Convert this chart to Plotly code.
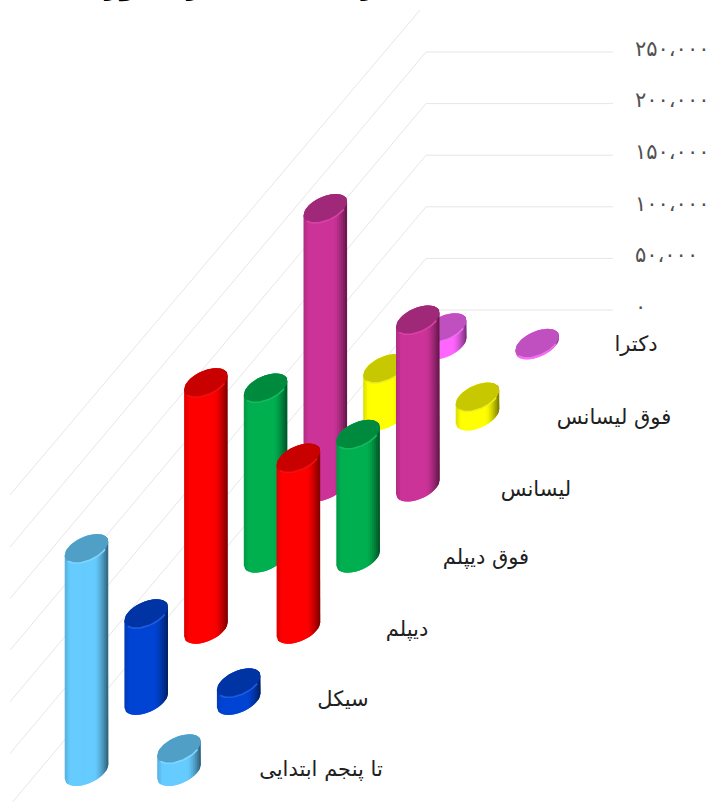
import math
import plotly.graph_objects as go

# ---------- data ----------
categories = ["تا پنجم ابتدایی", "سیکل", "دیپلم", "فوق دیپلم", "لیسانس", "فوق لیسانس", "دکترا"]
front_row = [22000, 17000, 166000, 120000, 162000, 18400, 1500]
back_row = [216000, 84000, 239000, 165000, 270000, 46000, 16700]
tick_values = [0, 50000, 100000, 150000, 200000, 250000]
tick_labels = ["۰", "۵۰،۰۰۰", "۱۰۰،۰۰۰", "۱۵۰،۰۰۰", "۲۰۰،۰۰۰", "۲۵۰،۰۰۰"]
title_text = "تعداد شاغلان به تفکیک مدرک تحصیلی در کشور"

body_colors = ["#66CCFF", "#0044D4", "#FF0000", "#00B050", "#CC3399", "#FFFF00", "#FF66FF"]
cap_colors = ["#4F9FC6", "#0034A4", "#C80000", "#008A3E", "#9F2878", "#C8C800", "#C04FC0"]
rim_colors = ["#80D6FF", "#1F5CE0", "#F01010", "#15BA60", "#D842A6", "#EEEE20", "#F070F0"]

# ---------- projection ----------
W, H = 713, 802
PX_PER_UNIT = 51.6 / 50000
ZERO_PX = 310
CAT_DX, CAT_DY = 59.7, 71.1
ROW_X = {0: 179.0, 1: 86.5}
BASE_PX0 = 771.5
HALF_W, HALF_H, SHEAR = 21.8, 14.5, 10.5
AX = math.sqrt(HALF_W**2 - SHEAR**2)


def val(px):
    return (ZERO_PX - px) / PX_PER_UNIT


def upper(dx):
    return HALF_H * (dx * SHEAR + AX * math.sqrt(max(HALF_W**2 - dx**2, 0))) / HALF_W**2


def lower(dx):
    return HALF_H * (dx * SHEAR - AX * math.sqrt(max(HALF_W**2 - dx**2, 0))) / HALF_W**2


def shade(hex_color, f):
    r, g, b = int(hex_color[1:3], 16), int(hex_color[3:5], 16), int(hex_color[5:7], 16)
    return f"rgb({int(r * f)},{int(g * f)},{int(b * f)})"


def factor(t):
    if t < 0.12:
        return 0.86 + 0.14 * t / 0.12
    if t < 0.68:
        return 1.0
    return 1.0 - 0.55 * ((t - 0.68) / 0.32) ** 1.5


fig = go.Figure()
none = dict(hoverinfo="skip", showlegend=False)

# ---------- back wall grid ----------
GRID = "#E6E6E6"
WALL_X, RIGHT_X, LEFT_X = 426, 613, 10
for v in tick_values:
    y0 = ZERO_PX - v * PX_PER_UNIT
    fig.add_trace(go.Scatter(x=[LEFT_X, WALL_X, RIGHT_X],
                             y=[val(y0 + (WALL_X - LEFT_X) * 1.19), v, v],
                             mode="lines", line=dict(color=GRID, width=1), **none))
fig.add_trace(go.Scatter(x=[LEFT_X, 420], y=[val(495), val(10)], mode="lines",
                         line=dict(color=GRID, width=1), **none))


# ---------- cylinders ----------
def cylinder(row, cat, value):
    cx = ROW_X[row] + CAT_DX * cat
    base = BASE_PX0 - CAT_DY * cat
    top = base - value * PX_PER_UNIT
    body, cap = body_colors[cat], cap_colors[cat]
    n = 22
    step = 2 * HALF_W / n
    for i in range(n):
        d0 = -HALF_W + i * step
        d1 = min(d0 + step + 2.0, HALF_W)
        ds = [d0 + (d1 - d0) * j / 3 for j in range(4)]
        xs = [cx + d for d in ds] + [cx + d for d in reversed(ds)]
        ys = [val(base - lower(d)) for d in ds] + [val(top - upper(d)) for d in reversed(ds)]
        col = shade(body, factor((i + 0.5) / n))
        fig.add_trace(go.Scatter(x=xs, y=ys, mode="lines", fill="toself", fillcolor=col,
                                 line=dict(width=0, color=col), **none))
    th = [2 * math.pi * j / 60 for j in range(61)]
    ex = [cx + AX * math.cos(a) + SHEAR * math.sin(a) for a in th]
    ey = [val(top - HALF_H * math.sin(a)) for a in th]
    fig.add_trace(go.Scatter(x=ex, y=ey, mode="lines", fill="toself", fillcolor=cap,
                             line=dict(width=0, color=cap), **none))
    # light rim along the near edge of the cap
    dl = [-HALF_W * 0.85 + HALF_W * 1.7 * j / 24 for j in range(25)]
    fig.add_trace(go.Scatter(x=[cx + d for d in dl], y=[val(top - lower(d)) for d in dl],
                             mode="lines", line=dict(color=rim_colors[cat], width=1.6), **none))


for cat in reversed(range(len(categories))):
    cylinder(1, cat, back_row[cat])
for cat in reversed(range(len(categories))):
    cylinder(0, cat, front_row[cat])

# ---------- text ----------
FONT = "DejaVu Sans"
fig.add_trace(go.Scatter(x=[635] * len(tick_values), y=[v + 1500 for v in tick_values],
                         mode="text", text=tick_labels, textposition="middle right",
                         textfont=dict(family=FONT, size=21, color="#505050"), **none))
cat_x = [321, 343, 407, 486, 536, 614, 636]
cat_y = [771, 701, 631, 559, 491, 419, 346]
fig.add_trace(go.Scatter(x=cat_x, y=[val(p) for p in cat_y], mode="text", text=categories,
                         textposition="middle center",
                         textfont=dict(family=FONT, size=21, color="#202020"), **none))

fig.add_annotation(xref="x", yref="paper", x=405, y=1, yanchor="bottom", yshift=-4,
                   text="<b>" + title_text + "</b>", showarrow=False,
                   font=dict(family=FONT, size=26, color="#000000"))

fig.update_layout(
    width=W, height=H, margin=dict(l=0, r=0, t=0, b=0),
    paper_bgcolor="white", plot_bgcolor="white", showlegend=False,
    xaxis=dict(range=[0, W], visible=False, fixedrange=True),
    yaxis=dict(range=[val(H), val(0)], visible=False, fixedrange=True),
)
fig.write_html("out.html", config={"displayModeBar": False},
               post_script="document.body.style.margin='0';document.body.style.overflow='hidden';")
